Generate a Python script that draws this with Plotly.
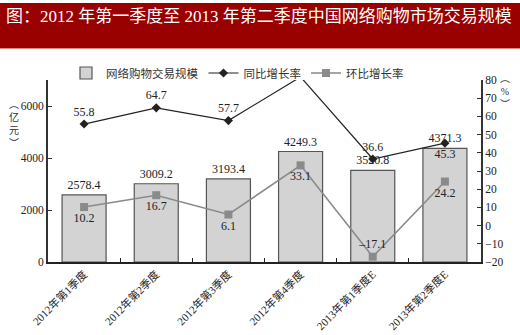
import plotly.graph_objects as go

# Quarterly online shopping market data
quarters = ["2012年第1季度", "2012年第2季度", "2012年第3季度", "2012年第4季度",
            "2013年第1季度E", "2013年第2季度E"]
scale = [2578.4, 3009.2, 3193.4, 4249.3, 3520.8, 4371.3]        # 亿元
yoy = [55.8, 64.7, 57.7, 81.7, 36.6, 45.3]                       # 同比增长率 %
qoq = [10.2, 16.7, 6.1, 33.1, -17.1, 24.2]                       # 环比增长率 %

yoy_pos = ["top center", "top center", "top center", "bottom center", "top center", "bottom center"]
qoq_pos = ["bottom center", "bottom center", "bottom center", "bottom center", "top center", "bottom center"]

W, H = 520, 335
L, R, T, B = 48, 39, 80, 73
pw, ph = W - L - R, H - T - B

SERIF = "Liberation Serif, Noto Sans CJK SC, serif"
CJK = "Noto Sans CJK SC, sans-serif"
NUM = 11.5

fig = go.Figure()

fig.add_trace(go.Bar(
    x=quarters, y=scale, name="网络购物交易规模",
    marker=dict(color="#d3d3d3", line=dict(color="#555555", width=1.2)),
    text=[f"{v:.1f}" for v in scale], textposition="outside",
    textfont=dict(family=SERIF, size=NUM + 0.5, color="#222222"),
    constraintext="none", cliponaxis=False,
))

fig.add_trace(go.Scatter(
    x=quarters, y=yoy, name="同比增长率", yaxis="y2", mode="lines+markers+text",
    line=dict(color="#222222", width=1.2),
    marker=dict(symbol="diamond", size=7, color="#222222"),
    text=[f"{v:.1f}" for v in yoy], textposition=yoy_pos,
    textfont=dict(family=SERIF, size=NUM + 0.5, color="#222222"),
    cliponaxis=False,
))

fig.add_trace(go.Scatter(
    x=quarters, y=qoq, name="环比增长率", yaxis="y2", mode="lines+markers+text",
    line=dict(color="#8a8a8a", width=1.6),
    marker=dict(symbol="square", size=8, color="#8a8a8a"),
    text=[f"{v:.1f}".replace("-", "–") for v in qoq], textposition=qoq_pos,
    textfont=dict(family=SERIF, size=NUM + 0.5, color="#222222"),
    cliponaxis=False,
))

# helpers to convert pixel positions into paper coordinates
def px_x(p):
    return (p - L) / pw

def px_y(p):
    return (H - B - p) / ph

fig.update_layout(
    width=W, height=H,
    margin=dict(l=L, r=R, t=T, b=B, pad=0, autoexpand=False),
    paper_bgcolor="white", plot_bgcolor="white",
    bargap=0.39,
    showlegend=True,
    legend=dict(orientation="h", x=px_x(66), y=px_y(73), xanchor="left", yanchor="middle",
                font=dict(family=CJK, size=11.5, color="#333333"),
                bgcolor="rgba(0,0,0,0)", traceorder="normal", itemwidth=30),
    xaxis=dict(showline=True, linecolor="#222222", linewidth=1.5, automargin=False,
               ticks="inside", ticklen=4, tickcolor="#222222", tickson="boundaries",
               tickangle=-45, tickfont=dict(family=SERIF, size=11, color="#222222"),
               showgrid=False, fixedrange=True),
    yaxis=dict(range=[0, 7000], tickvals=[0, 2000, 4000, 6000], automargin=False,
               showline=True, linecolor="#333333", linewidth=2,
               ticks="inside", ticklen=4, tickcolor="#333333",
               tickfont=dict(family=SERIF, size=NUM, color="#222222"),
               showgrid=False, zeroline=False),
    yaxis2=dict(range=[-20, 80], dtick=10, overlaying="y", side="right", automargin=False,
                showline=True, linecolor="#333333", linewidth=2,
                ticks="inside", ticklen=4, tickcolor="#333333",
                tickfont=dict(family=SERIF, size=NUM, color="#222222"),
                showgrid=False, zeroline=False),
    shapes=[
        dict(type="rect", xref="paper", yref="paper",
             x0=px_x(0), x1=px_x(W), y0=px_y(48), y1=px_y(3),
             fillcolor="#990000", line=dict(width=0), layer="below"),
        dict(type="line", xref="paper", yref="paper",
             x0=px_x(0), x1=px_x(W), y0=px_y(48.5), y1=px_y(48.5),
             line=dict(color="#e08a8a", width=1)),
    ],
    annotations=[
        dict(text="图：2012 年第一季度至 2013 年第二季度中国网络购物市场交易规模",
             xref="paper", yref="paper", x=px_x(4), y=px_y(17),
             xanchor="left", yanchor="middle", showarrow=False,
             font=dict(family="Liberation Serif, Noto Sans CJK SC", size=17, color="white")),
        dict(text="︵<br>亿<br>元<br>︶", xref="paper", yref="paper",
             x=px_x(14), y=px_y(123), xanchor="center", yanchor="middle", showarrow=False,
             font=dict(family=CJK, size=10, color="#333333")),
        dict(text="︵<br>%<br>︶", xref="paper", yref="paper",
             x=px_x(505), y=px_y(91), xanchor="center", yanchor="middle", showarrow=False,
             font=dict(family=SERIF, size=10, color="#333333")),
    ],
)

fig.write_html("out.html")
